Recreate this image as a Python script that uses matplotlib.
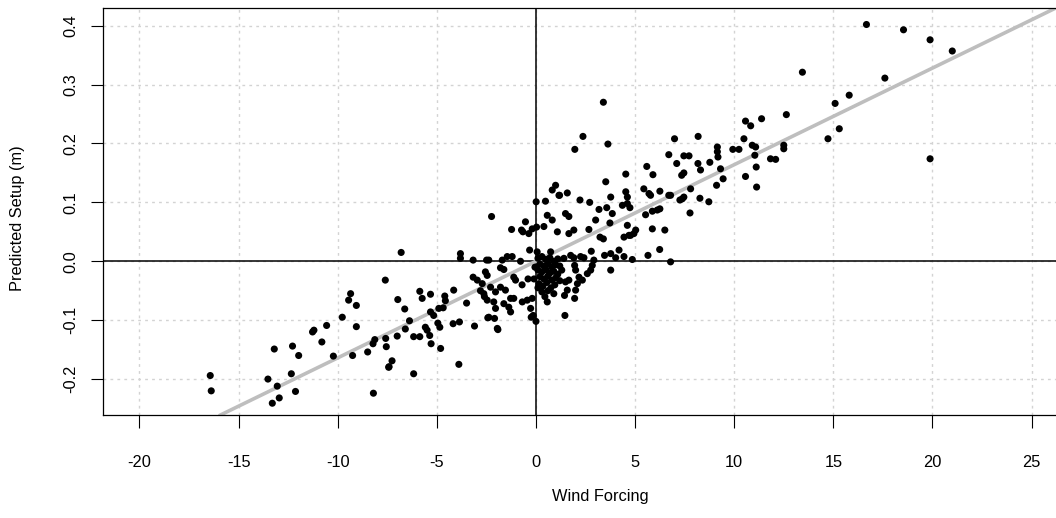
import matplotlib
matplotlib.use("Agg")
import matplotlib.pyplot as plt

plt.rcParams['font.family'] = ['Liberation Sans', 'DejaVu Sans']
plt.rcParams['axes.unicode_minus'] = False

# wind forcing (x) and predicted setup in m (y)
wind = [-16.43, -16.38, -13.52, -13.05, -12.34, -12.13, -12.95, -13.3, -13.2, -12.28,
        -11.97, -10.22, -9.25, -8.49, -8.13, -8.22, -7.58, -7.55, -7.41, -8.2,
        -7.26, -7.43, -6.17, -3.89, -4.81, -7.6, -9.35, -9.45, -9.06, -9.77,
        -10.56, -11.27, -11.2, -9.06, -10.8, -6.8, -3.81, -3.81, -3.17, -2.49,
        -6.97, -6.62, -5.86, -5.74, -5.32, -4.6, -4.57, -4.15, -4.68, -5.32,
        -5.16, -4.9, -6.38, -6.59, -7.0, -5.58, -5.49, -6.17, -5.86, -5.36,
        -5.29, -4.95, -4.85, -4.18, -3.86, -3.1, -3.5, -3.17, -2.96, -2.71,
        -2.55, -2.46, -2.43, -1.92,
        # centre left
        -2.24, -0.53, -1.23, -0.73, -0.66, -0.19, 0.03, -0.36, 0.4, -0.32,
        0.06, 0.74, -2.38, -1.7, -1.45, -1.2, -0.78, -1.79, -1.62, -1.12,
        -1.03, -2.29, -2.04, -1.79, -1.54, -1.28, -1.12, -2.63, -2.46, -2.13,
        -2.04, -1.62, -1.37, -1.28, -0.69, -0.44, -0.19, -0.27, -0.14, -0.24,
        -2.38, -2.09, -1.95, 0.57, 0.0, -2.8, -2.6,
        0.99, 0.82, 1.16, 0.01, 0.48, 0.57, 0.82, 1.08,
        # dense cluster just right of zero
        0.1, 0.3, 0.5, 0.7, 0.9, 1.1, 0.2, 0.4, 0.6, 0.8,
        1.0, 1.2, 0.1, 0.3, 0.5, 0.7, 0.9, 1.1, 1.3, 0.2,
        0.4, 0.6, 0.8, 1.0, 1.2, 0.15, 0.35, 0.55, 0.75, 0.95,
        0.3, 0.6, 0.9, 0.1, -0.1, -0.05, 0.45, -0.4, -0.7,
        # centre right
        4.53, 3.52, 1.19, 1.58, 3.77, 4.53, 4.61, 2.22, 2.71, 3.18,
        3.57, 3.85, 4.36, 4.61, 1.49, 1.66, 3.01, 3.73, 1.66, 1.91,
        2.67, 3.23, 3.4, 4.44, 4.69, 2.79, 3.46, 3.77, 4.02, 4.19,
        4.44, 1.41, 1.75, 1.91, 2.25, 2.42, 2.92, 2.84, 2.76, 2.59,
        1.95, 2.0, 2.17, 2.34, 2.09, 3.77, 1.49, 1.66, 1.58, 2.0,
        1.44, 1.95, 1.46,
        3.4, 2.37, 3.63, 1.96, 5.59,
        6.99, 8.18, 6.7, 7.46, 7.72, 7.1, 8.17, 8.3, 8.77, 9.15,
        9.15, 9.18, 9.31, 9.44, 9.11, 9.93, 10.24, 5.9, 7.35, 7.46,
        5.44, 5.7, 5.78, 6.25, 6.7, 6.79, 7.8, 7.38, 7.46, 7.26,
        8.27, 8.72, 4.74, 6.25, 6.12, 5.87, 5.53, 7.77, 4.61, 5.03,
        4.94, 4.77, 5.87, 6.5, 4.86, 5.65, 6.24, 6.79,
        # upper right
        15.8, 15.09, 15.3, 14.73, 12.63, 11.38, 10.57, 10.83, 10.49, 10.91,
        11.08, 11.04, 12.5, 12.5, 11.83, 12.09, 11.11, 10.57, 11.13,
        16.67, 18.54, 19.88, 21.0, 13.44, 17.6, 19.88]

setup = [-0.194, -0.220, -0.200, -0.212, -0.191, -0.221, -0.232, -0.241, -0.149, -0.144,
         -0.160, -0.161, -0.160, -0.154, -0.133, -0.140, -0.131, -0.145, -0.179, -0.224,
         -0.169, -0.180, -0.191, -0.175, -0.148, -0.032, -0.055, -0.066, -0.075, -0.095,
         -0.109, -0.120, -0.117, -0.111, -0.137, 0.015, 0.013, 0.005, 0.002, 0.002,
         -0.065, -0.081, -0.051, -0.063, -0.056, -0.059, -0.067, -0.049, -0.079, -0.086,
         -0.092, -0.080, -0.101, -0.115, -0.127, -0.112, -0.117, -0.128, -0.128, -0.126,
         -0.140, -0.105, -0.112, -0.106, -0.103, -0.110, -0.071, -0.027, -0.032, -0.038,
         -0.018, -0.024, -0.096, -0.116,
         0.076, 0.067, 0.054, 0.053, 0.050, 0.055, 0.058, 0.047, 0.059, 0.019,
         0.016, 0.016, 0.002, 0.002, 0.008, 0.008, 0.0, -0.011, -0.014, -0.027,
         -0.032, -0.044, -0.052, -0.044, -0.049, -0.063, -0.063, -0.055, -0.066, -0.069,
         -0.080, -0.072, -0.078, -0.086, -0.069, -0.066, -0.063, -0.080, -0.092, -0.095,
         -0.095, -0.097, -0.114, -0.069, -0.102, -0.050, -0.060,
         0.129, 0.121, 0.112, 0.101, 0.102, 0.078, 0.070, 0.050,
         0.005, 0.008, 0.003, 0.006, 0.0, 0.004, -0.005, -0.008, -0.004, -0.010,
         -0.006, -0.008, -0.015, -0.018, -0.014, -0.020, -0.017, -0.022, -0.015, -0.026,
         -0.030, -0.025, -0.032, -0.028, -0.033, -0.038, -0.042, -0.036, -0.045, -0.040,
         -0.052, -0.050, -0.055, -0.045, -0.030, -0.010, -0.060, -0.030, -0.040,
         0.148, 0.135, 0.112, 0.116, 0.109, 0.118, 0.109, 0.104, 0.100, 0.088,
         0.091, 0.081, 0.095, 0.098, 0.081, 0.076, 0.070, 0.065, 0.047, 0.053,
         0.054, 0.041, 0.038, 0.041, 0.044, 0.017, 0.010, 0.013, 0.006, 0.019,
         0.008, 0.005, 0.010, 0.006, 0.008, 0.006, 0.002, -0.007, -0.015, -0.021,
         -0.007, -0.015, -0.027, -0.032, -0.038, -0.015, -0.035, -0.032, -0.049, -0.049,
         -0.058, -0.063, -0.092,
         0.270, 0.212, 0.199, 0.190, 0.161,
         0.208, 0.212, 0.181, 0.179, 0.179, 0.166, 0.166, 0.155, 0.168, 0.194,
         0.186, 0.177, 0.157, 0.140, 0.129, 0.190, 0.190, 0.147, 0.146, 0.150,
         0.123, 0.115, 0.112, 0.119, 0.112, 0.112, 0.123, 0.106, 0.109, 0.104,
         0.107, 0.101, 0.091, 0.089, 0.087, 0.085, 0.079, 0.082, 0.061, 0.053,
         0.047, 0.044, 0.055, 0.053, 0.003, 0.010, 0.020, -0.001,
         0.282, 0.268, 0.225, 0.208, 0.249, 0.242, 0.238, 0.230, 0.208, 0.197,
         0.194, 0.180, 0.197, 0.191, 0.174, 0.173, 0.160, 0.144, 0.126,
         0.402, 0.393, 0.376, 0.357, 0.321, 0.311, 0.174]

# fitted line
fit_slope = 0.0164
fit_intercept = 0.0

x_ticks = [-20, -15, -10, -5, 0, 5, 10, 15, 20, 25]
y_ticks = [-0.2, -0.1, 0.0, 0.1, 0.2, 0.3, 0.4]
y_labels = ['-0.2', '-0.1', '0.0', '0.1', '0.2', '0.3', '0.4']

fs = 11.8

fig = plt.figure(figsize=(10.56, 5.18), dpi=100)
ax = fig.add_axes([103 / 1056, 1 - 415 / 518, (1097 - 103) / 1056, (415 - 8.3) / 518])

ax.set_xlim(-21.84, 28.3)
ax.set_ylim(-0.261, 0.4295)

for xv in x_ticks:
    ax.axvline(xv, color='#d3d3d3', lw=1, ls=(0, (2, 3)), zorder=0)
for yv in y_ticks:
    ax.axhline(yv, color='#d3d3d3', lw=1, ls=(0, (2, 3)), zorder=0)

ax.axhline(0, color='black', lw=1.1, zorder=1)
ax.axvline(0, color='black', lw=1.1, zorder=1)
ax.axline((0, fit_intercept), slope=fit_slope, color='#bebebe', lw=2.6, zorder=2)

ax.scatter(wind, setup, s=26, color='black', edgecolors='none', zorder=3)

ax.set_xticks(x_ticks)
ax.set_yticks(y_ticks)
ax.set_yticklabels(y_labels, rotation=90, va='center')
ax.tick_params(axis='both', labelsize=fs, length=9, width=0.8, color='black')
ax.tick_params(axis='x', pad=20)
ax.tick_params(axis='y', pad=9)
for s in ax.spines.values():
    s.set_linewidth(0.9)

ax.set_xlabel('Wind Forcing', fontsize=fs, va='center')
ax.xaxis.set_label_coords(0.5, (415 - 497) / 406.7)
ax.set_ylabel('Predicted Setup (m)', fontsize=fs, va='center')
ax.yaxis.set_label_coords((18 - 103) / 994, (415 - 218) / 406.7)

fig.savefig('out.png', dpi=100)
